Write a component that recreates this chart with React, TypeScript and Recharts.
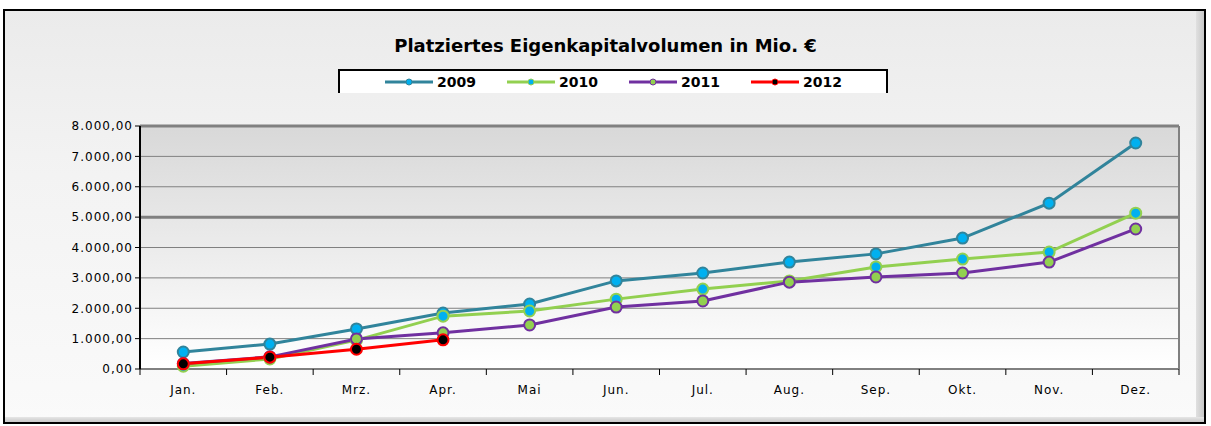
import { LineChart, Line, XAxis, YAxis, CartesianGrid, ReferenceLine } from 'recharts';

const months = ['Jan.', 'Feb.', 'Mrz.', 'Apr.', 'Mai', 'Jun.', 'Jul.', 'Aug.', 'Sep.', 'Okt.', 'Nov.', 'Dez.'];
const v2009 = [560, 820, 1320, 1840, 2140, 2900, 3160, 3520, 3790, 4310, 5460, 7440];
const v2010 = [90, 330, 950, 1740, 1910, 2300, 2630, 2900, 3360, 3620, 3850, 5130];
const v2011 = [180, 400, 990, 1190, 1450, 2040, 2240, 2860, 3030, 3160, 3520, 4610];
const v2012 = [170, 390, 650, 960];
const yTicks = [0, 1000, 2000, 3000, 4000, 5000, 6000, 7000, 8000];

const data = months.map((m, i) => ({
  month: m,
  y2009: v2009[i],
  y2010: v2010[i],
  y2011: v2011[i],
  y2012: v2012[i],
}));

const series = [
  { key: 'y2009', name: '2009', stroke: '#31849B', fill: '#00B0F0' },
  { key: 'y2010', name: '2010', stroke: '#92D050', fill: '#00B0F0' },
  { key: 'y2011', name: '2011', stroke: '#7030A0', fill: '#92D050' },
  { key: 'y2012', name: '2012', stroke: '#FF0000', fill: '#000000' },
];

const W = 1211;
const H = 426;
const PLOT_LEFT = 140;
const PLOT_RIGHT = 1179;
const PLOT_TOP = 126;
const PLOT_BOTTOM = 369;
const BAND = (PLOT_RIGHT - PLOT_LEFT) / months.length;

const fmt = (v: number) => {
  const s = Math.round(v).toString().replace(/\B(?=(\d{3})+(?!\d))/g, '.');
  return s + ',00';
};

const tickFont = { fontFamily: 'DejaVu Sans, Verdana, sans-serif', fontSize: 12, letterSpacing: 1 };

const XTick = (props: any) => {
  const { x, payload, index } = props;
  return (
    <g>
      <line x1={x - BAND / 2} x2={x - BAND / 2} y1={PLOT_BOTTOM} y2={PLOT_BOTTOM + 6} stroke="#000" />
      {index === months.length - 1 && (
        <line x1={x + BAND / 2} x2={x + BAND / 2} y1={PLOT_BOTTOM} y2={PLOT_BOTTOM + 6} stroke="#000" />
      )}
      <text x={x} y={PLOT_BOTTOM + 25} textAnchor="middle" fill="#000" style={tickFont}>
        {payload.value}
      </text>
    </g>
  );
};

const LegendBox = () => (
  <div
    style={{
      position: 'absolute',
      left: 338,
      top: 69,
      width: 550,
      height: 24,
      boxSizing: 'border-box',
      background: '#fff',
      borderTop: '2px solid #000',
      borderLeft: '2px solid #000',
      borderRight: '2px solid #000',
      display: 'flex',
      justifyContent: 'center',
      alignItems: 'center',
      gap: 30,
      fontFamily: 'DejaVu Sans, Verdana, sans-serif',
      fontWeight: 'bold',
      fontSize: 14,
    }}
  >
    {series.map((s) => (
      <div key={s.key} style={{ display: 'flex', alignItems: 'center' }}>
        <svg width={50} height={12}>
          <line x1={1} x2={49} y1={6} y2={6} stroke={s.stroke} strokeWidth={3} />
          <circle cx={25} cy={6} r={3} fill={s.fill} stroke={s.stroke} strokeWidth={1} />
        </svg>
        <span style={{ marginLeft: 3 }}>{s.name}</span>
      </div>
    ))}
  </div>
);

export default function App() {
  return (
    <div style={{ position: 'absolute', left: 0, top: 0, width: W, height: H, background: '#fff' }}>
      <svg width={0} height={0} style={{ position: 'absolute' }}>
        <defs>
          <linearGradient id="plotBg" x1="0" y1="0" x2="0" y2="1">
            <stop offset="0%" stopColor="#d8d8d8" />
            <stop offset="100%" stopColor="#ffffff" />
          </linearGradient>
        </defs>
      </svg>
      <div
        style={{
          position: 'absolute',
          left: 3,
          top: 9,
          width: 1203,
          height: 415,
          boxSizing: 'border-box',
          border: '2px solid #000',
          background: 'linear-gradient(180deg, #ebebeb 0%, #f3f3f3 40%, #fafafa 100%)',
        }}
      >
        <div
          style={{
            position: 'absolute',
            right: 0,
            top: 0,
            bottom: 0,
            width: 8,
            background: 'linear-gradient(90deg, #e0e0e0, #c8c8c8)',
          }}
        />
        <div
          style={{
            position: 'absolute',
            left: 0,
            right: 0,
            bottom: 0,
            height: 5,
            background: 'linear-gradient(180deg, #e6e6e6, #c8c8c8)',
          }}
        />
      </div>
      <div
        style={{
          position: 'absolute',
          left: 0,
          top: 35,
          width: W,
          textAlign: 'center',
          fontFamily: 'DejaVu Sans, Verdana, sans-serif',
          fontWeight: 'bold',
          fontSize: 18,
          color: '#000',
        }}
      >
        Platziertes Eigenkapitalvolumen in Mio. €
      </div>
      <LegendBox />
      <div style={{ position: 'absolute', left: 0, top: 0 }}>
        <LineChart
          width={W}
          height={H}
          data={data}
          margin={{ top: PLOT_TOP, right: W - PLOT_RIGHT, left: PLOT_LEFT - 60, bottom: H - PLOT_BOTTOM - 30 }}
        >
          <CartesianGrid vertical={false} stroke="#808080" fill="url(#plotBg)" strokeOpacity={1} />
          <XAxis
            dataKey="month"
            height={30}
            tick={<XTick />}
            tickLine={false}
            axisLine={{ stroke: '#808080', strokeWidth: 2 }}
            interval={0}
            padding={{ left: BAND / 2, right: BAND / 2 }}
          />
          <YAxis
            width={60}
            domain={[0, 8000]}
            ticks={yTicks}
            tickFormatter={fmt}
            tick={{ ...tickFont, fill: '#000' }}
            axisLine={{ stroke: '#000', strokeWidth: 2 }}
            tickLine={{ stroke: '#000' }}
            tickSize={5}
            interval={0}
          />
          <ReferenceLine y={5000} stroke="#808080" strokeWidth={3} />
          <ReferenceLine y={8000} stroke="#808080" strokeWidth={3} />
          {series.map((s) => (
            <Line
              key={s.key}
              type="linear"
              dataKey={s.key}
              name={s.name}
              stroke={s.stroke}
              strokeWidth={3}
              dot={{ r: 5.5, stroke: s.stroke, strokeWidth: 2, fill: s.fill }}
              activeDot={false}
              isAnimationActive={false}
            />
          ))}
        </LineChart>
      </div>
      <div
        style={{
          position: 'absolute',
          left: PLOT_RIGHT - 1,
          top: PLOT_TOP,
          width: 2,
          height: PLOT_BOTTOM - PLOT_TOP,
          background: '#808080',
        }}
      />
    </div>
  );
}
